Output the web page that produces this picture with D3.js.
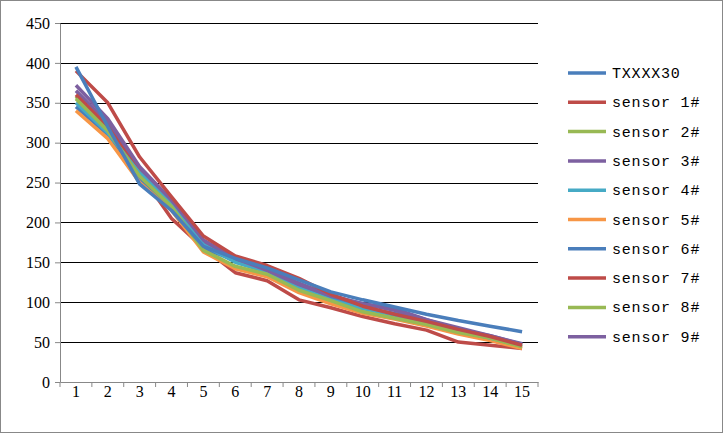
<!DOCTYPE html><html><head><meta charset="utf-8"><script src="https://cdn.jsdelivr.net/npm/d3@7"></script>
<style>body{margin:0;background:#fff}svg{display:block}</style></head><body><svg width="723" height="433"></svg>
<script>
const categories=["1","2","3","4","5","6","7","8","9","10","11","12","13","14","15"];
const seriesNames=["TXXXX30","sensor 1#","sensor 2#","sensor 3#","sensor 4#","sensor 5#","sensor 6#","sensor 7#","sensor 8#","sensor 9#"];
const TXXXX30=[395,320,248,215,170,155,143,128,113,103,94,85,77,70,63];
const s1=[390,350,282,232,183,158,146,130,110,95,85,76,66,57,46];
const s2=[355,315,258,220,165,145,135,115,102,88,80,72,62,55,44];
const s3=[372,330,270,228,178,155,140,122,108,98,90,78,66,58,47];
const s4=[350,312,262,222,172,150,138,118,103,92,84,74,64,55,45];
const s5=[340,305,250,215,163,142,132,112,98,86,79,70,60,52,42];
const s6=[345,310,255,218,168,152,140,120,105,93,86,76,66,57,47];
const s7=[360,320,262,205,168,137,127,103,93,82,73,65,50,46,42];
const s8=[358,318,260,222,166,144,133,114,100,88,80,71,61,53,44];
const s9=[365,325,266,225,175,153,141,124,108,98,92,78,68,58,48];
const allSeries=[TXXXX30,s1,s2,s3,s4,s5,s6,s7,s8,s9];
const colors=["#4A7EBB","#BE4B48","#98B954","#7D60A0","#46AAC5","#F79646","#4A7EBB","#BE4B48","#98B954","#7D60A0"];
const yTicks=[0,50,100,150,200,250,300,350,400,450];
const svg=d3.select("svg");
svg.append("rect").attr("x",0.5).attr("y",0.5).attr("width",722).attr("height",432).attr("fill","#fff").attr("stroke","#888");
const L=60,R=538,T=23,B=382;
const x=d3.scaleBand().domain(categories).range([L,R]);
const y=d3.scaleLinear().domain([0,450]).range([B,T]);
const font="'Liberation Serif','DejaVu Serif',serif";
svg.append("g").selectAll("line").data(yTicks.slice(1)).join("line").attr("x1",L).attr("x2",R).attr("y1",d=>Math.round(y(d))+0.5).attr("y2",d=>Math.round(y(d))+0.5).attr("stroke","#000").attr("stroke-width",1);
const ya=svg.append("g").attr("transform",`translate(${L},0)`).call(d3.axisLeft(y).tickValues(yTicks).tickSize(5).tickSizeOuter(0));
const xa=svg.append("g").attr("transform",`translate(0,${B})`).call(d3.axisBottom(x).tickSize(0).tickSizeOuter(0));
xa.selectAll("line.tk").data(d3.range(categories.length+1)).join("line").attr("class","tk").attr("x1",i=>L+i*x.step()).attr("x2",i=>L+i*x.step()).attr("y1",0).attr("y2",5).attr("stroke","#888");
[ya,xa].forEach(a=>{a.selectAll("path,line").attr("stroke","#888");a.selectAll("text").attr("font-family",font).attr("font-size",16).attr("fill","#000");});
ya.selectAll("text").attr("dx",-2);
xa.selectAll("text").attr("dy",12);
const line=d3.line().x((d,i)=>x(categories[i])+x.bandwidth()/2).y(d=>y(d));
allSeries.slice().reverse().forEach((s,ri)=>{const i=allSeries.length-1-ri;
 svg.append("path").datum(s).attr("d",line).attr("fill","none").attr("stroke",colors[i]).attr("stroke-width",3.5).attr("stroke-linejoin","round");});
const lg=svg.append("g");
seriesNames.forEach((n,i)=>{const yy=73+i*29.3;
 lg.append("line").attr("x1",568).attr("x2",606).attr("y1",yy).attr("y2",yy).attr("stroke",colors[i]).attr("stroke-width",3.5);
 lg.append("text").attr("x",612).attr("y",yy+5).attr("font-family","'Liberation Mono','DejaVu Sans Mono',monospace").attr("font-size",15).attr("letter-spacing",0.8).text(n);});
</script></body></html>
